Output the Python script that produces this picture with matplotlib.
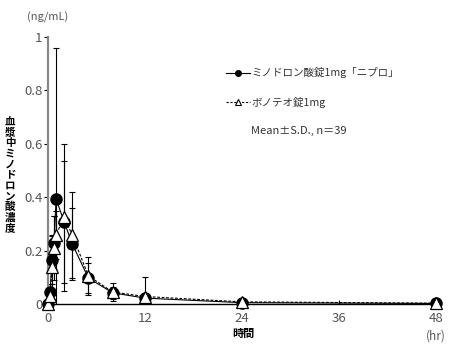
import matplotlib
matplotlib.use("Agg")
import matplotlib.pyplot as plt
from matplotlib.lines import Line2D

plt.rcParams['font.family'] = ['Noto Sans CJK JP', 'DejaVu Sans']

times = [0, 0.25, 0.5, 0.75, 1, 2, 3, 5, 8, 12, 24, 48]
mino_mean = [0, 0.045, 0.165, 0.23, 0.393, 0.307, 0.225, 0.097, 0.042, 0.022, 0.005, 0.002]
mino_sd = [0, 0.03, 0.09, 0.10, 0.567, 0.23, 0.135, 0.056, 0.022, 0.02, 0.003, 0.001]
bono_mean = [0, 0.03, 0.14, 0.21, 0.26, 0.325, 0.258, 0.105, 0.045, 0.028, 0.008, 0.003]
bono_sd = [0, 0.03, 0.12, 0.12, 0.09, 0.275, 0.162, 0.071, 0.033, 0.072, 0.003, 0.002]

xticks = [0, 12, 24, 36, 48]
yticks = [0, 0.2, 0.4, 0.6, 0.8, 1]
ytick_labels = ['0', '0.2', '0.4', '0.6', '0.8', '1']
label_mino = 'ミノドロン酸錠1mg「ニプロ」'
label_bono = 'ボノテオ錠1mg'
note = 'Mean±S.D., n＝39'
ylabel = '血漿中ミノドロン酸濃度'

fig = plt.figure(figsize=(4.5, 3.46), dpi=100)
ax = fig.add_axes([0.1067, 0.1214, 0.8622, 0.7717])

gray = '#555555'
ax.errorbar(times, bono_mean, yerr=bono_sd, fmt='none', ecolor='black',
            elinewidth=0.8, capsize=2.5, capthick=0.8, zorder=2)
ax.errorbar(times, mino_mean, yerr=mino_sd, fmt='none', ecolor='black',
            elinewidth=0.8, capsize=2.5, capthick=0.8, zorder=2)
ax.plot(times, mino_mean, '-', color='black', lw=0.8, zorder=3)
ax.plot(times, bono_mean, '--', color='black', lw=0.8, dashes=(2.5, 1.5), zorder=3)
ax.plot(times, mino_mean, 'o', color='black', ms=8, zorder=4, clip_on=False)
ax.plot(times, bono_mean, '^', mfc='white', mec='black', mew=0.9, ms=9, zorder=5, clip_on=False)

ax.set_xlim(0, 48)
ax.set_ylim(0, 1)
ax.set_xticks(xticks)
ax.set_xticklabels([str(t) for t in xticks])
ax.set_yticks(yticks)
ax.set_yticklabels(ytick_labels)
for s in ['top', 'right']:
    ax.spines[s].set_visible(False)
ax.spines['left'].set_color('#888888')
ax.spines['left'].set_linewidth(1.6)
ax.spines['bottom'].set_linewidth(1.0)
ax.tick_params(axis='x', direction='in', length=3, labelsize=9.5, labelcolor=gray, pad=6)
ax.tick_params(axis='y', direction='out', length=3, labelsize=9.5, labelcolor=gray, pad=1)

fig.text(48/450, 1-17/346, '(ng/mL)', ha='center', va='center', fontsize=8, color=gray)
fig.text(436/450, 1-336/346, '(hr)', ha='center', va='center', fontsize=8.5, color=gray)
fig.text(243/450, 1-333/346, '時間', ha='center', va='center', fontsize=8, fontweight='bold')
for i, ch in enumerate(ylabel):
    fig.text(10/450, 1-(122 + i*10.6)/346, ch, ha='center', va='center', fontsize=7.6,
             fontweight='bold')

# legend
lx0, lx1 = 226/450, 250/450
y1 = 1-73/346
y2 = 1-102/346
fig.add_artist(Line2D([lx0, lx1], [y1, y1], color='black', lw=0.8, transform=fig.transFigure))
fig.add_artist(Line2D([(lx0+lx1)/2], [y1], marker='o', color='black', ms=4, transform=fig.transFigure))
fig.add_artist(Line2D([lx0, lx1], [y2, y2], color='black', lw=0.8, ls='--', dashes=(2, 1.5),
                      transform=fig.transFigure))
fig.add_artist(Line2D([(lx0+lx1)/2], [y2], marker='^', mfc='white', mec='black', mew=0.8, ms=4,
                      color='black', transform=fig.transFigure))
fig.text(251/450, y1, label_mino, ha='left', va='center', fontsize=7.6, color='#333333')
fig.text(251/450, y2, label_bono, ha='left', va='center', fontsize=7.6, color='#333333')
fig.text(251/450, 1-131/346, note, ha='left', va='center', fontsize=8, color='#333333')

fig.savefig('out.png', dpi=100)
